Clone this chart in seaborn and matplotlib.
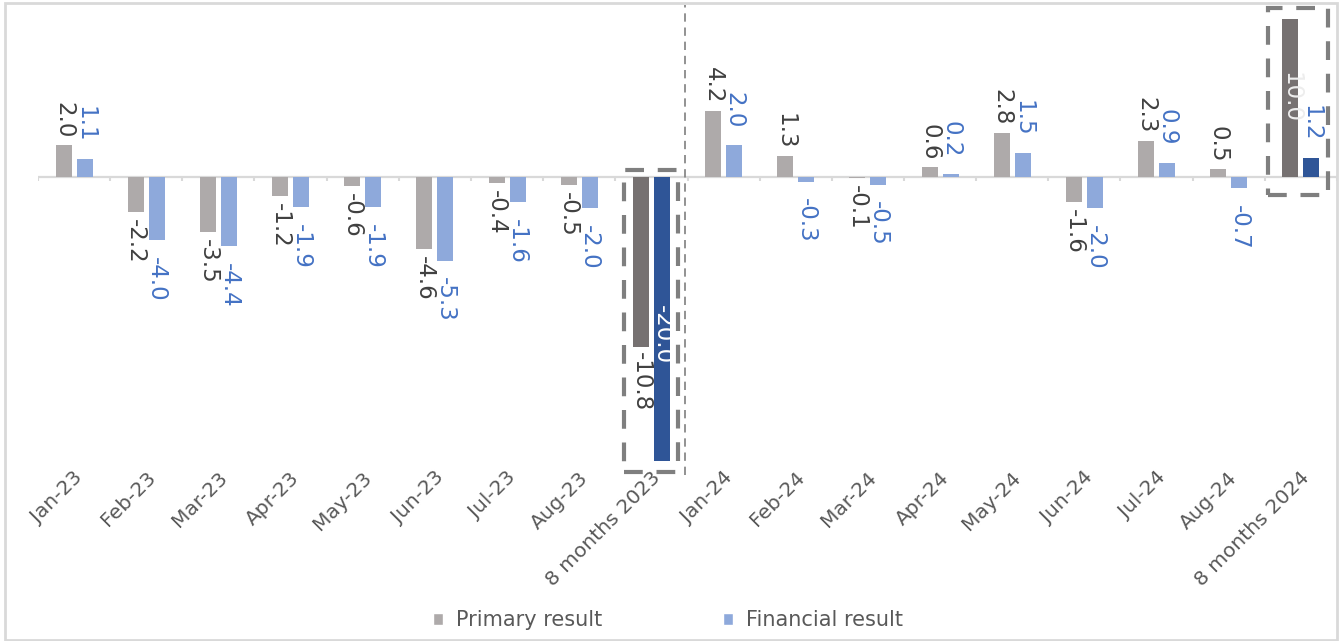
import numpy as np
import pandas as pd
import matplotlib
matplotlib.use("Agg")
import matplotlib.pyplot as plt
import seaborn as sns
from matplotlib.patches import Rectangle, Patch
from matplotlib.transforms import ScaledTranslation

# ---- data -------------------------------------------------------------
periods = ["Jan-23", "Feb-23", "Mar-23", "Apr-23", "May-23", "Jun-23",
           "Jul-23", "Aug-23", "8 months 2023",
           "Jan-24", "Feb-24", "Mar-24", "Apr-24", "May-24", "Jun-24",
           "Jul-24", "Aug-24", "8 months 2024"]
primary = [2.0, -2.2, -3.5, -1.2, -0.6, -4.6, -0.4, -0.5, -10.8,
           4.2, 1.3, -0.1, 0.6, 2.8, -1.6, 2.3, 0.5, 10.0]
financial = [1.1, -4.0, -4.4, -1.9, -1.9, -5.3, -1.6, -2.0, -20.0,
             2.0, -0.3, -0.5, 0.2, 1.5, -2.0, 0.9, -0.7, 1.2]
series_names = ["Primary result", "Financial result"]

# ---- styling ----------------------------------------------------------
bar_colors = ["#AEAAAA", "#8EA9DB"]        # monthly bars
total_colors = ["#767171", "#2F5597"]      # 8-month totals
label_colors = ["#404040", "#4472C4"]
label_gap_pt = [5, 12]                     # label distance from bar end
text_gray = "#595959"
grid_gray = "#D9D9D9"

sns.set_theme(style="white")
plt.rcParams["font.family"] = ["DejaVu Sans"]

df = pd.DataFrame({
    "period": periods * 2,
    "series": [series_names[0]] * len(periods) + [series_names[1]] * len(periods),
    "value": primary + financial,
})

W, H = 1341, 641
fig = plt.figure(figsize=(W / 100, H / 100), dpi=100)
ax = fig.add_axes([38 / W, 1 - 461 / H, (1337 - 38) / W, (461 - 19) / H])

sns.barplot(data=df, x="period", y="value", hue="series",
            order=periods, hue_order=series_names, palette=bar_colors,
            width=0.58, gap=0.24, saturation=1, linewidth=0,
            errorbar=None, legend=False, ax=ax, zorder=2)

ax.set_xlim(-0.5, len(periods) - 0.5)
ax.set_ylim(-18, 10)
ax.set_xlabel("")
ax.set_ylabel("")
ax.set_yticks([])
for sp in ax.spines.values():
    sp.set_visible(False)

is_total = [p.startswith("8 months") for p in periods]


def find_bar(k, s):
    for p in ax.patches:
        cx = p.get_x() + p.get_width() / 2
        if int(round(cx)) == k and ((cx < k) == (s == 0)):
            return p
    return None


# recolour the 8-month total bars
for k in range(len(periods)):
    if is_total[k]:
        for s in range(2):
            find_bar(k, s).set_facecolor(total_colors[s])

# zero line with category boundary ticks
ax.axhline(0, color=grid_gray, lw=1.6, zorder=1)
ax.vlines(np.arange(len(periods) + 1) - 0.5, 0, -0.27, color=grid_gray,
          lw=1.5, zorder=1)

# value labels
for s, vals in enumerate([primary, financial]):
    for k, v in enumerate(vals):
        patch = find_bar(k, s)
        x = patch.get_x() + patch.get_width() / 2
        txt = f"{v:.1f}"
        if is_total[k] and s == 1 and v < -18:
            ax.text(x, v / 2, txt, rotation=-90, ha="center", va="center",
                    color="white", fontsize=16.5, zorder=3)
        elif is_total[k] and s == 0 and v > 0:
            ax.text(x, v / 2, txt, rotation=-90, ha="center", va="center",
                    color="#EDEDED", fontsize=16.5, zorder=3)
        else:
            gap = label_gap_pt[s]
            if is_total[k] and s == 0:
                gap = 3
            off = gap if v >= 0 else -gap
            ax.annotate(txt, (x, v), xytext=(0, off), textcoords="offset points",
                        rotation=-90, ha="center",
                        va="bottom" if v >= 0 else "top",
                        color=label_colors[s], fontsize=16.5, zorder=3)

# dashed boxes around the 8-month totals
box_style = dict(fill=False, edgecolor="#7F7F7F", lw=3,
                 linestyle=(0, (4.5, 3.3)), clip_on=False, zorder=4)
ax.add_patch(Rectangle((7.62, -18.7), 0.75, 19.14, **box_style))
ax.add_patch(Rectangle((16.54, -1.15), 0.83, 11.85, **box_style))

# separator between the two years
ax.vlines(8.47, -0.032, 1.032, transform=ax.get_xaxis_transform(),
          color="#7F7F7F", lw=1.2, linestyle=(0, (5, 3.5)), clip_on=False,
          zorder=1)

# category labels
ax.set_xticks(range(len(periods)))
ax.set_xticklabels(periods, rotation=45, ha="right", va="center",
                   rotation_mode="anchor", color=text_gray, fontsize=14.5)
ax.tick_params(axis="x", length=0, pad=10)
shift = ScaledTranslation(6 / 100, 0, fig.dpi_scale_trans)
for lab in ax.get_xticklabels():
    lab.set_transform(lab.get_transform() + shift)

# legend
handles = [Patch(facecolor=bar_colors[0]), Patch(facecolor=bar_colors[1])]
fig.legend(handles, series_names, loc="center",
           bbox_to_anchor=(668 / W, 1 - 620 / H), ncol=2, frameon=False,
           fontsize=15, labelcolor=text_gray, handlelength=0.5,
           handleheight=0.5, handletextpad=0.6, columnspacing=5.8)

# outer frame
fig.patches.append(Rectangle((5 / W, 1 / H), (1337 - 5) / W, (638 - 1) / H,
                             transform=fig.transFigure, fill=False,
                             edgecolor=grid_gray, lw=2))

fig.savefig("out.png", dpi=100)
